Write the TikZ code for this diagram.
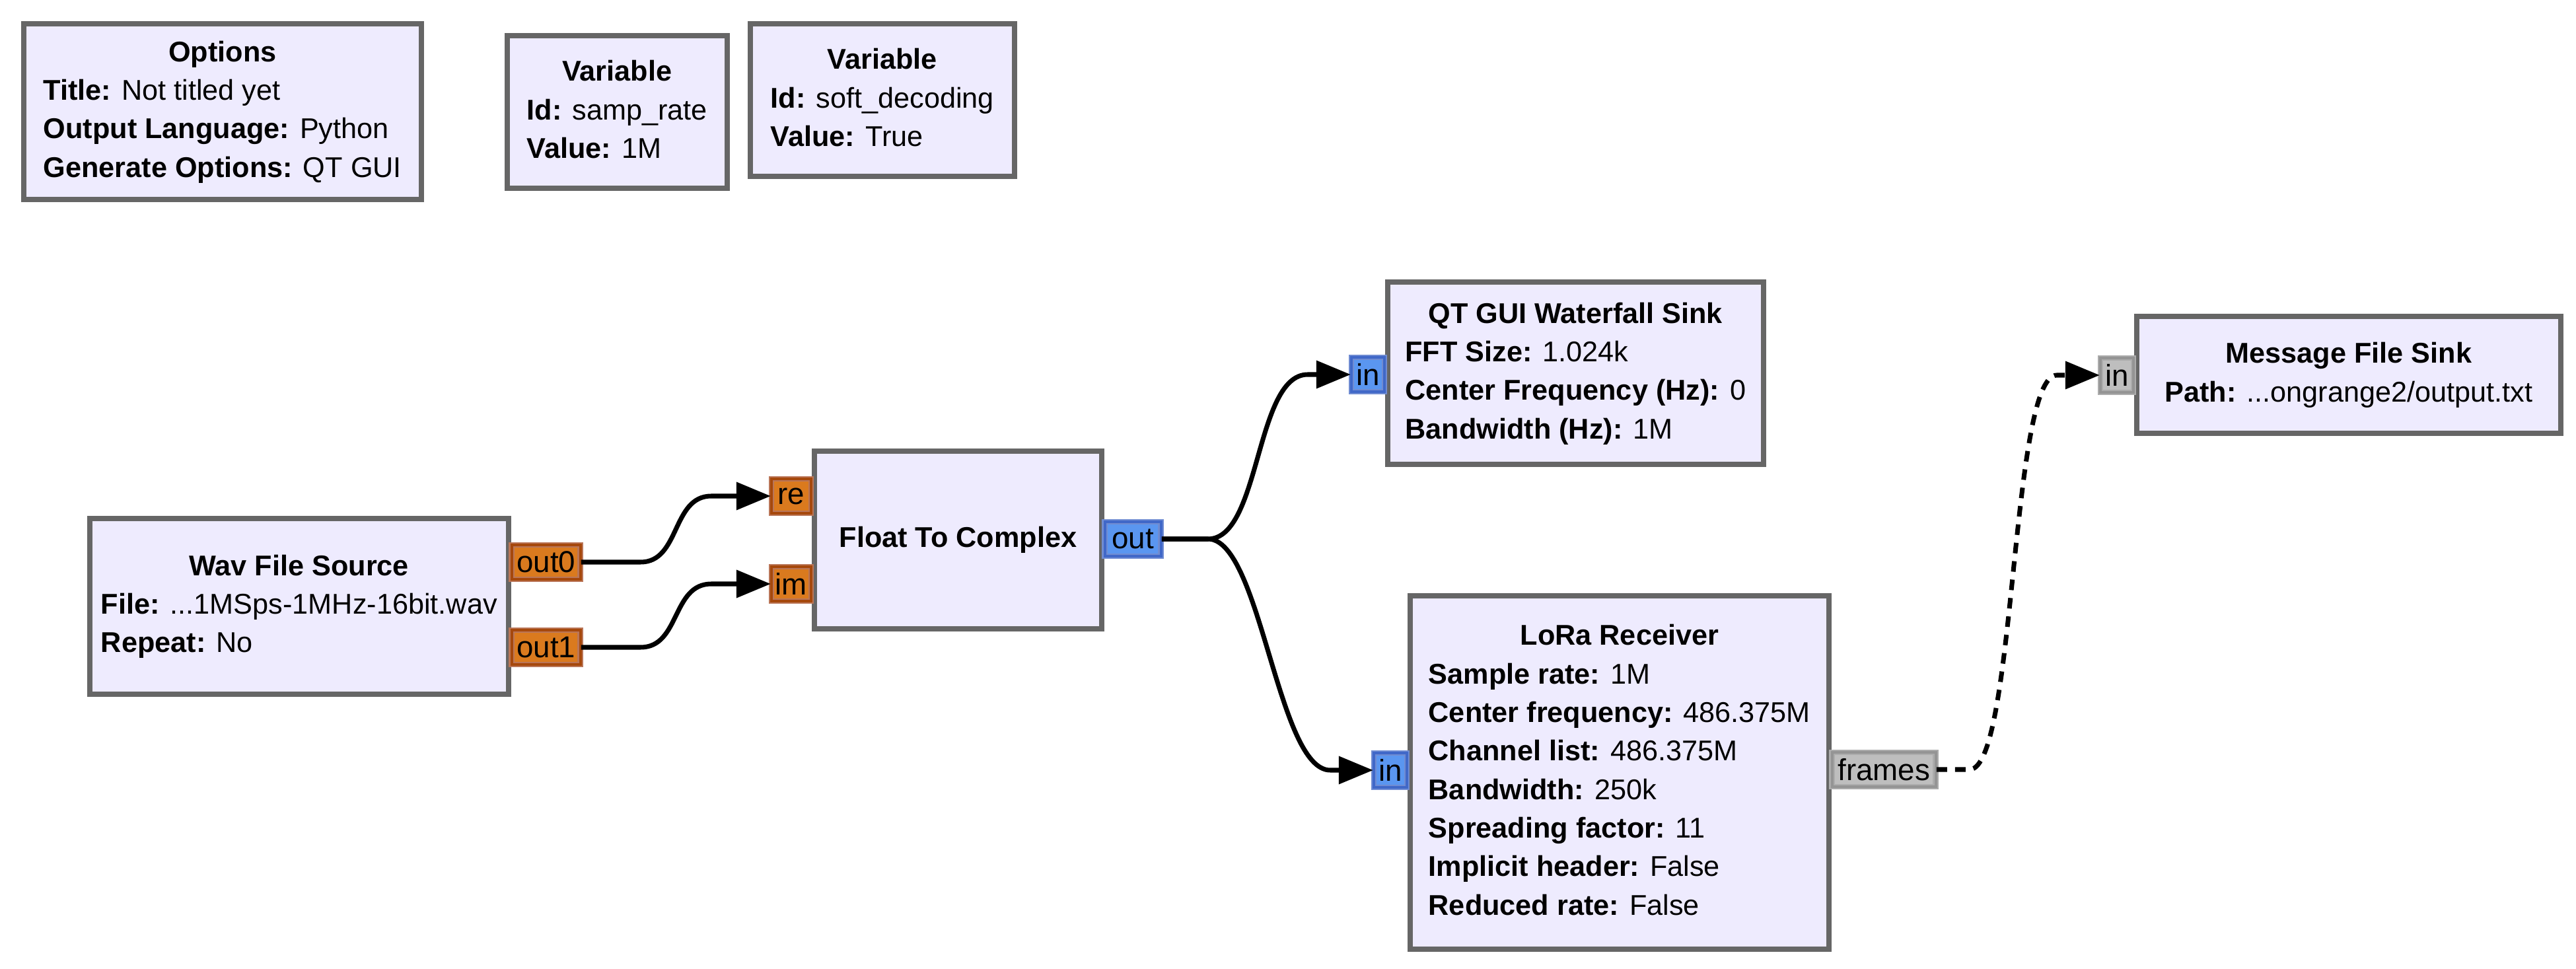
\documentclass[tikz,border=0pt]{standalone}
\usepackage{fontspec}
\setmainfont{Liberation Sans}
\usetikzlibrary{arrows.meta, positioning, calc}

\definecolor{blockfill}{RGB}{238,235,254}
\definecolor{blockline}{RGB}{102,102,102}
\definecolor{floatfill}{RGB}{218,122,30}
\definecolor{floatline}{RGB}{166,72,12}
\definecolor{floatedge}{RGB}{186,118,88}
\definecolor{cplxfill}{RGB}{90,150,240}
\definecolor{cplxline}{RGB}{64,104,200}
\definecolor{cplxedge}{RGB}{112,140,210}
\definecolor{msgfill}{RGB}{190,190,190}
\definecolor{msgline}{RGB}{148,148,148}
\definecolor{msgedge}{RGB}{172,172,172}

% title centred, parameters left aligned
\newcommand{\blocktext}[2]{\begin{tabular}{@{}l@{}}\multicolumn{1}{@{}c@{}}{\bfseries #1}\\ #2\end{tabular}}

\begin{document}
\begin{tikzpicture}[
    block/.style={rectangle, draw=blockline, fill=blockfill, line width=2.2pt,
                  anchor=north west, inner sep=0pt, align=center,
                  font=\fontsize{12.3}{16.6}\selectfont},
    port/.style={rectangle, line width=0.6pt, double distance=1.3pt, inner sep=0pt,
                 minimum height=0.52cm, font=\fontsize{13}{14}\selectfont},
    floatport/.style={port, draw=floatedge, double=floatline, fill=floatfill},
    cplxport/.style={port, draw=cplxedge, double=cplxline, fill=cplxfill},
    msgport/.style={port, draw=msgedge, double=msgline, fill=msgfill},
    wire/.style={-{Triangle[length=0.52cm, width=0.41cm]}, line width=2pt},
  ]
  \useasboundingbox (0,0) rectangle (39,14.66);

  % variables and options
  \node[block, minimum width=6.02cm, minimum height=2.66cm] (opts) at (0.32,14.34)
    {\blocktext{Options}{\textbf{Title:} Not titled yet\\ \textbf{Output Language:} Python\\ \textbf{Generate Options:} QT GUI}};
  \node[block, minimum width=3.33cm, minimum height=2.31cm] (samprate) at (7.64,14.16)
    {\blocktext{Variable}{\textbf{Id:} samp\_rate\\ \textbf{Value:} 1M}};
  \node[block, minimum width=4.00cm, minimum height=2.31cm] (softdec) at (11.32,14.34)
    {\blocktext{Variable}{\textbf{Id:} soft\_decoding\\ \textbf{Value:} True}};

  % flowgraph blocks
  \node[block, minimum width=6.34cm, minimum height=2.66cm] (wav) at (1.32,6.85)
    {\blocktext{Wav File Source}{\textbf{File:} ...1MSps-1MHz-16bit.wav\\ \textbf{Repeat:} No}};
  \node[block, minimum width=4.35cm, minimum height=2.69cm] (f2c) at (12.29,7.87)
    {\textbf{Float To Complex}};
  \node[block, minimum width=5.69cm, minimum height=2.76cm] (wfall) at (20.97,10.43)
    {\blocktext{QT GUI Waterfall Sink}{\textbf{FFT Size:} 1.024k\\ \textbf{Center Frequency (Hz):} 0\\ \textbf{Bandwidth (Hz):} 1M}};
  \node[block, minimum width=6.34cm, minimum height=5.35cm] (lora) at (21.31,5.68)
    {\blocktext{LoRa Receiver}{\textbf{Sample rate:} 1M\\ \textbf{Center frequency:} 486.375M\\ \textbf{Channel list:} 486.375M\\
     \textbf{Bandwidth:} 250k\\ \textbf{Spreading factor:} 11\\ \textbf{Implicit header:} False\\ \textbf{Reduced rate:} False}};
  \node[block, minimum width=6.42cm, minimum height=1.77cm] (msgsink) at (32.31,9.91)
    {\blocktext{Message File Sink}{\textbf{Path:} ...ongrange2/output.txt}};

  % ports
  \node[floatport, anchor=west, minimum width=1.04cm] (out0) at ($(wav.north east)+(0,-0.70)$) {out0};
  \node[floatport, anchor=west, minimum width=1.04cm] (out1) at ($(wav.north east)+(0,-1.99)$) {out1};
  \node[floatport, anchor=east, minimum width=0.60cm] (re) at ($(f2c.north west)+(0,-0.72)$) {re};
  \node[floatport, anchor=east, minimum width=0.60cm] (im) at ($(f2c.north west)+(0,-2.05)$) {im};
  \node[cplxport, anchor=west, minimum width=0.85cm] (out) at ($(f2c.north east)+(0,-1.37)$) {out};
  \node[cplxport, anchor=east, minimum width=0.50cm] (wfin) at ($(wfall.north west)+(0,-1.44)$) {in};
  \node[cplxport, anchor=east, minimum width=0.50cm] (lorain) at ($(lora.north west)+(0,-2.68)$) {in};
  \node[msgport, anchor=west, minimum width=1.57cm] (frames) at ($(lora.north east)+(0,-2.67)$) {frames};
  \node[msgport, anchor=east, minimum width=0.50cm] (msgin) at ($(msgsink.north west)+(0,-0.93)$) {in};

  % connections
  \draw[wire] (out0.east) -- ++(0.9,0) .. controls +(0.6,0) and +(-0.6,0) .. ($(re.west)+(-0.9,0)$) -- (re.west);
  \draw[wire] (out1.east) -- ++(0.9,0) .. controls +(0.6,0) and +(-0.6,0) .. ($(im.west)+(-0.9,0)$) -- (im.west);
  \draw[wire] (out.east) -- ++(0.7,0) .. controls +(0.8,0) and +(-0.8,0) .. ($(wfin.west)+(-0.65,0)$) -- (wfin.west);
  \draw[wire] (out.east) -- ++(0.7,0) .. controls +(0.8,0) and +(-0.8,0) .. ($(lorain.west)+(-0.65,0)$) -- (lorain.west);
  % message connection
  \draw[wire, dash pattern=on 0.16cm off 0.12cm] (frames.east) -- ++(0.5,0)
    .. controls +(0.7,0) and +(-0.7,0) .. ($(msgin.west)+(-0.65,0)$) -- (msgin.west);
\end{tikzpicture}
\end{document}
